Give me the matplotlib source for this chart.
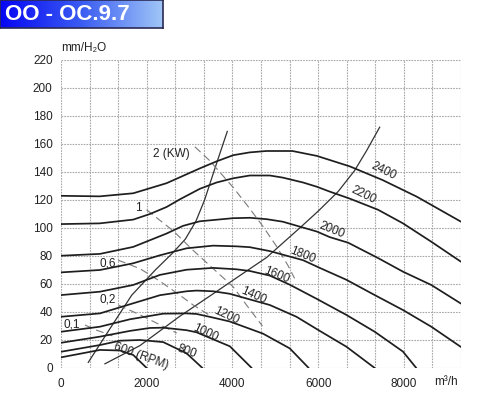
import numpy as np
import matplotlib
matplotlib.use("Agg")
import matplotlib.pyplot as plt
from matplotlib.colors import LinearSegmentedColormap

plt.rcParams['font.family'] = ['Liberation Sans', 'DejaVu Sans']

# ---------------- data ----------------
title = "OO - OC.9.7"
y_unit = "mm/H\u2082O"
x_unit = "m\u00b3/h"
x_ticks = [0, 2000, 4000, 6000, 8000]
y_ticks = [0, 20, 40, 60, 80, 100, 120, 140, 160, 180, 200, 220]

rpm_labels = ["2400", "2200", "2000", "1800", "1600", "1400", "1200", "1000", "800", "600 (RPM)"]

q2400 = [0, 900, 1685, 2463, 3240, 3630, 4017, 4400, 4794, 5400, 5970, 6740, 7500, 8300, 9333]
p2400 = [123, 122.6, 124.8, 132, 142.6, 147.6, 152, 154, 155, 155, 151.5, 144, 134.3, 122.4, 104.5]

q2200 = [0, 900, 1685, 2075, 2463, 2775, 3240, 3630, 4017, 4405, 4872, 5175, 5648, 5967, 6270, 6737, 7400, 7980, 8640, 9333]
p2200 = [102.8, 103.3, 106, 110, 115, 120.5, 128, 132.5, 135.5, 137.5, 137.5, 136, 132.5, 129.5, 126, 121, 113, 103.3, 90.2, 75.9]

q2000 = [0, 909, 1685, 2460, 2845, 3240, 4010, 4405, 4800, 5175, 5570, 5967, 6270, 6700, 7400, 7980, 8640, 9333]
p2000 = [80.2, 81.5, 86.5, 96, 101.5, 104.8, 107, 107.3, 106.3, 104.5, 101, 97.5, 93.5, 89.5, 78.5, 68.8, 59.3, 46]

q1800 = [0, 909, 1685, 2308, 2930, 3550, 4095, 4405, 4872, 5648, 6038, 6660, 7320, 7980, 8640, 9333]
p1800 = [68.3, 70, 74.8, 80.5, 85.5, 87.4, 86.9, 86.3, 83.5, 77, 71.5, 63, 52.1, 41.4, 29.5, 15]

q1600 = [0, 909, 1685, 2308, 2930, 3550, 4095, 4405, 4872, 5338, 5960, 6660, 7320, 7980, 8290]
p1600 = [52.1, 54.5, 59.3, 66.5, 70.2, 71.5, 70.5, 69.3, 66, 59.5, 49.5, 37.9, 25.9, 11.7, 0]

q1400 = [0, 909, 1608, 2308, 2930, 3163, 3550, 3940, 4405, 4872, 5494, 6038, 6660, 7320]
p1400 = [36.6, 39, 45.5, 52, 54.8, 55.3, 54.8, 53, 49, 45, 36.6, 26.5, 15.2, 0]

q1200 = [0, 909, 1608, 2385, 2930, 3163, 3550, 3940, 4405, 4716, 5338, 5780]
p1200 = [25.9, 29.5, 34.8, 38.8, 39, 38.6, 36, 33.2, 28, 24.5, 14, 0]

q1000 = [0, 909, 1608, 2075, 2385, 2930, 3163, 3550, 3940, 4450]
p1000 = [18, 22.4, 26.5, 28.6, 28.8, 27, 25.5, 20.5, 15.5, 0]

q800 = [0, 909, 1375, 1840, 2385, 2930, 3300]
p800 = [11.6, 16.4, 19.5, 20, 18.5, 10.5, 0]

q600 = [0, 500, 909, 1375, 1685, 2000]
p600 = [7.6, 10.5, 12.9, 12.5, 9.3, 0]

# steep thin lines
qa = [636, 1140, 1650, 2200, 2600, 2900, 3150, 3350, 3500, 3650, 3880]
pa = [4, 28, 52, 70, 82, 92, 105, 120, 134, 148, 169]
qb = [1025, 1842, 2774, 3550, 4172, 4800, 5570, 6000, 6465, 6850, 7126, 7436]
pb = [3, 16, 37, 53, 66, 79, 100, 112, 126, 141, 155, 172]

# power (kW) dashed lines
kw_labels = ["2 (KW)", "1", "0,6", "0,2", "0,1"]
q_kw2 = [3124, 3473, 4017, 4400, 4716, 5027, 5300, 5450]
p_kw2 = [158, 148, 129, 114, 101, 87, 73, 64]
q_kw1 = [1997, 2618, 3084, 3550, 4017, 4328, 4700]
p_kw1 = [113, 98, 84, 71, 58, 45, 30]
q_kw06 = [1336, 1841, 2308, 2774, 3084, 3500]
p_kw06 = [77, 71, 62, 52, 45, 37]
q_kw02 = [1336, 1841, 2300, 2700]
p_kw02 = [45, 38, 31, 25]
q_kw01 = [559, 832, 1200]
p_kw01 = [30.7, 27, 23]

# ---------------- figure ----------------
W, H = 504, 394
fig = plt.figure(figsize=(W / 100, H / 100), dpi=100)
fig.patch.set_facecolor('white')

ax = fig.add_axes([61 / W, (H - 368) / H, 400 / W, 308 / H])
XMAX = 9333.3
ax.set_xlim(0, XMAX)
ax.set_ylim(0, 220)
for s in ax.spines.values():
    s.set_visible(False)

grid_kw = dict(color='#a8a8a8', lw=0.8, ls=(0, (1.5, 1.0)), zorder=1)
for gx in np.linspace(0, XMAX, 15):
    ax.axvline(gx, **grid_kw)
for gy in y_ticks:
    ax.axhline(gy, **grid_kw)

ax.set_xticks(x_ticks)
ax.set_yticks(y_ticks)
ax.tick_params(length=0, labelsize=8.5, colors='#222222')
ax.tick_params(axis='x', pad=7)
ax.tick_params(axis='y', pad=6)

curves = [(q2400, p2400), (q2200, p2200), (q2000, p2000), (q1800, p1800), (q1600, p1600),
          (q1400, p1400), (q1200, p1200), (q1000, p1000), (q800, p800), (q600, p600)]
for q, p in curves:
    ax.plot(q, p, color='#1e1e1e', lw=1.25, zorder=4, solid_capstyle='round',
            solid_joinstyle='round')

ax.plot(qa, pa, color='#333333', lw=0.9, zorder=3)
ax.plot(qb, pb, color='#333333', lw=0.9, zorder=3)

dash_kw = dict(color='#7a7a7a', lw=0.8, ls=(0, (7, 4)), zorder=3)
for q, p in [(q_kw2, p_kw2), (q_kw1, p_kw1), (q_kw06, p_kw06), (q_kw02, p_kw02), (q_kw01, p_kw01)]:
    ax.plot(q, p, **dash_kw)

# curve labels
rpm_pos = [(7529, 140.7, -26), (7063, 123.6, -26), (6317, 98.6, -22), (5641, 80.7, -22),
           (5035, 66.4, -22), (4499, 51.4, -24), (3846, 37.1, -25), (3357, 25.0, -25),
           (2937, 12.1, -20), (1865, 8.6, -20)]
for lab, (x, y, r) in zip(rpm_labels, rpm_pos):
    ax.text(x, y, lab, rotation=r, rotation_mode='anchor', ha='center', va='center',
            fontsize=8.5, color='#222222', zorder=5)

kw_pos = [(2587, 152.9), (1795, 114.3), (1096, 75.0), (1096, 48.6), (256, 31.4)]
for lab, (x, y) in zip(kw_labels, kw_pos):
    ax.text(x, y, lab, ha='center', va='center', fontsize=8.5, color='#222222', zorder=5)

# axis units
fig.text(61 / W, 1 - 48 / H, y_unit, ha='left', va='center', fontsize=8.5, color='#222222')
fig.text(446 / W, 1 - 382 / H, x_unit, ha='center', va='center', fontsize=8.5, color='#222222')

# title box with gradient
tax = fig.add_axes([0, 1 - 28 / H, 163 / W, 28 / H])
cmap = LinearSegmentedColormap.from_list('tb', ['#0606f2', '#3a5cf2', '#a0c6f7'])
tax.imshow(np.linspace(0, 1, 256)[None, :], cmap=cmap, aspect='auto', extent=(0, 1, 0, 1))
tax.set_xlim(0, 1)
tax.set_ylim(0, 1)
tax.set_xticks([])
tax.set_yticks([])
for s in tax.spines.values():
    s.set_color('#2a2a55')
    s.set_linewidth(1.2)
tax.text(5 / 163, 0.5, title, ha='left', va='center', color='white', fontsize=16,
         fontweight='bold', transform=tax.transAxes)

fig.savefig('out.png', dpi=100)
